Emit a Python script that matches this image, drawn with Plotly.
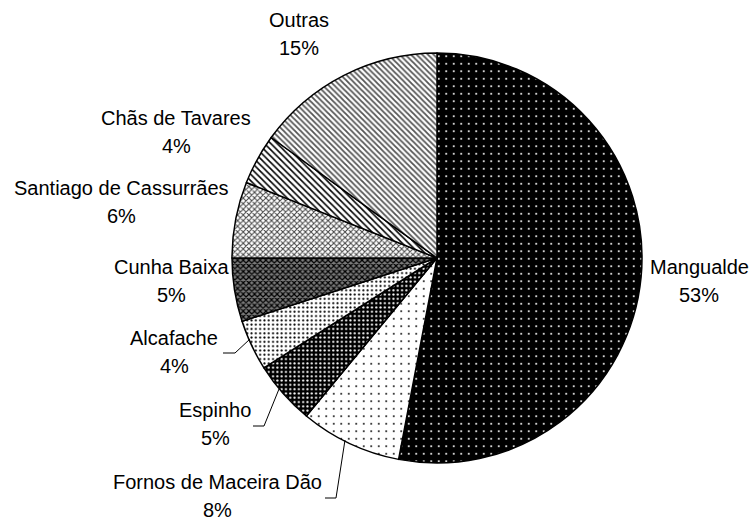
import plotly.graph_objects as go

# slices, clockwise from 12 o'clock
labels = ["Mangualde", "Fornos de Maceira Dão", "Espinho", "Alcafache",
          "Cunha Baixa", "Santiago de Cassurrães", "Chãs de Tavares", "Outras"]
values = [53, 8, 5, 4, 5, 6, 4, 15]

W, H = 750, 521
CX, CY, R = 437, 258, 205


def px(x, y):
    return x / W, 1 - y / H


pattern = dict(
    shape=[".", ".", ".", ".", "x", "x", "\\", "\\"],
    bgcolor=["#000", "#fff", "#000", "#fff", "#7a7a7a", "#fff", "#fff", "#fff"],
    fgcolor=["#fff", "#000", "#fff", "#000", "#000", "#444", "#000", "#555"],
    size=[7.5, 7.5, 4.3, 4.3, 4, 4, 4.5, 4],
    solidity=[0.06, 0.05, 0.2, 0.18, 0.5, 0.45, 0.35, 0.45],
    fillmode="replace",
)

fig = go.Figure(go.Pie(
    labels=labels,
    values=values,
    sort=False,
    direction="clockwise",
    rotation=0,
    textinfo="none",
    hoverinfo="label+percent",
    marker=dict(line=dict(color="#000", width=1.5), pattern=pattern),
    domain=dict(x=[(CX - R) / W, (CX + R) / W],
                y=[(H - CY - R) / H, (H - CY + R) / H]),
))

# label name position (pixels) and gap to the percentage line
label_pos = [(699, 267), (217, 482), (215, 410), (174, 338),
             (171, 267), (121, 188), (176, 118), (299, 20)]
line_gap = 28

total = sum(values)
font = dict(family="Liberation Sans, Arial, sans-serif", size=20, color="#000")
for name, v, (x, y) in zip(labels, values, label_pos):
    for txt, yy in ((name, y), ("%d%%" % round(100 * v / total), y + line_gap)):
        ax, ay = px(x, yy)
        fig.add_annotation(x=ax, y=ay, xref="paper", yref="paper", text=txt,
                           showarrow=False, xanchor="center", yanchor="middle",
                           font=font)

# leader lines for the small slices near the bottom
leaders = [
    [(223, 353), (235, 353), (250, 339)],
    [(253, 426), (264, 426), (279, 389)],
    [(325, 498), (336, 498), (345, 440)],
]
for pts in leaders:
    for (x0, y0), (x1, y1) in zip(pts[:-1], pts[1:]):
        a0, b0 = px(x0, y0)
        a1, b1 = px(x1, y1)
        fig.add_shape(type="line", xref="paper", yref="paper",
                      x0=a0, y0=b0, x1=a1, y1=b1,
                      line=dict(color="#000", width=1))

fig.update_layout(
    width=W,
    height=H,
    margin=dict(l=0, r=0, t=0, b=0),
    showlegend=False,
    paper_bgcolor="#fff",
    plot_bgcolor="#fff",
)

# page body has a default 8px margin; drop it so the figure sits at 0,0
fig.write_html("out.html", config={"displayModeBar": False},
               post_script="document.body.style.margin='0';")
